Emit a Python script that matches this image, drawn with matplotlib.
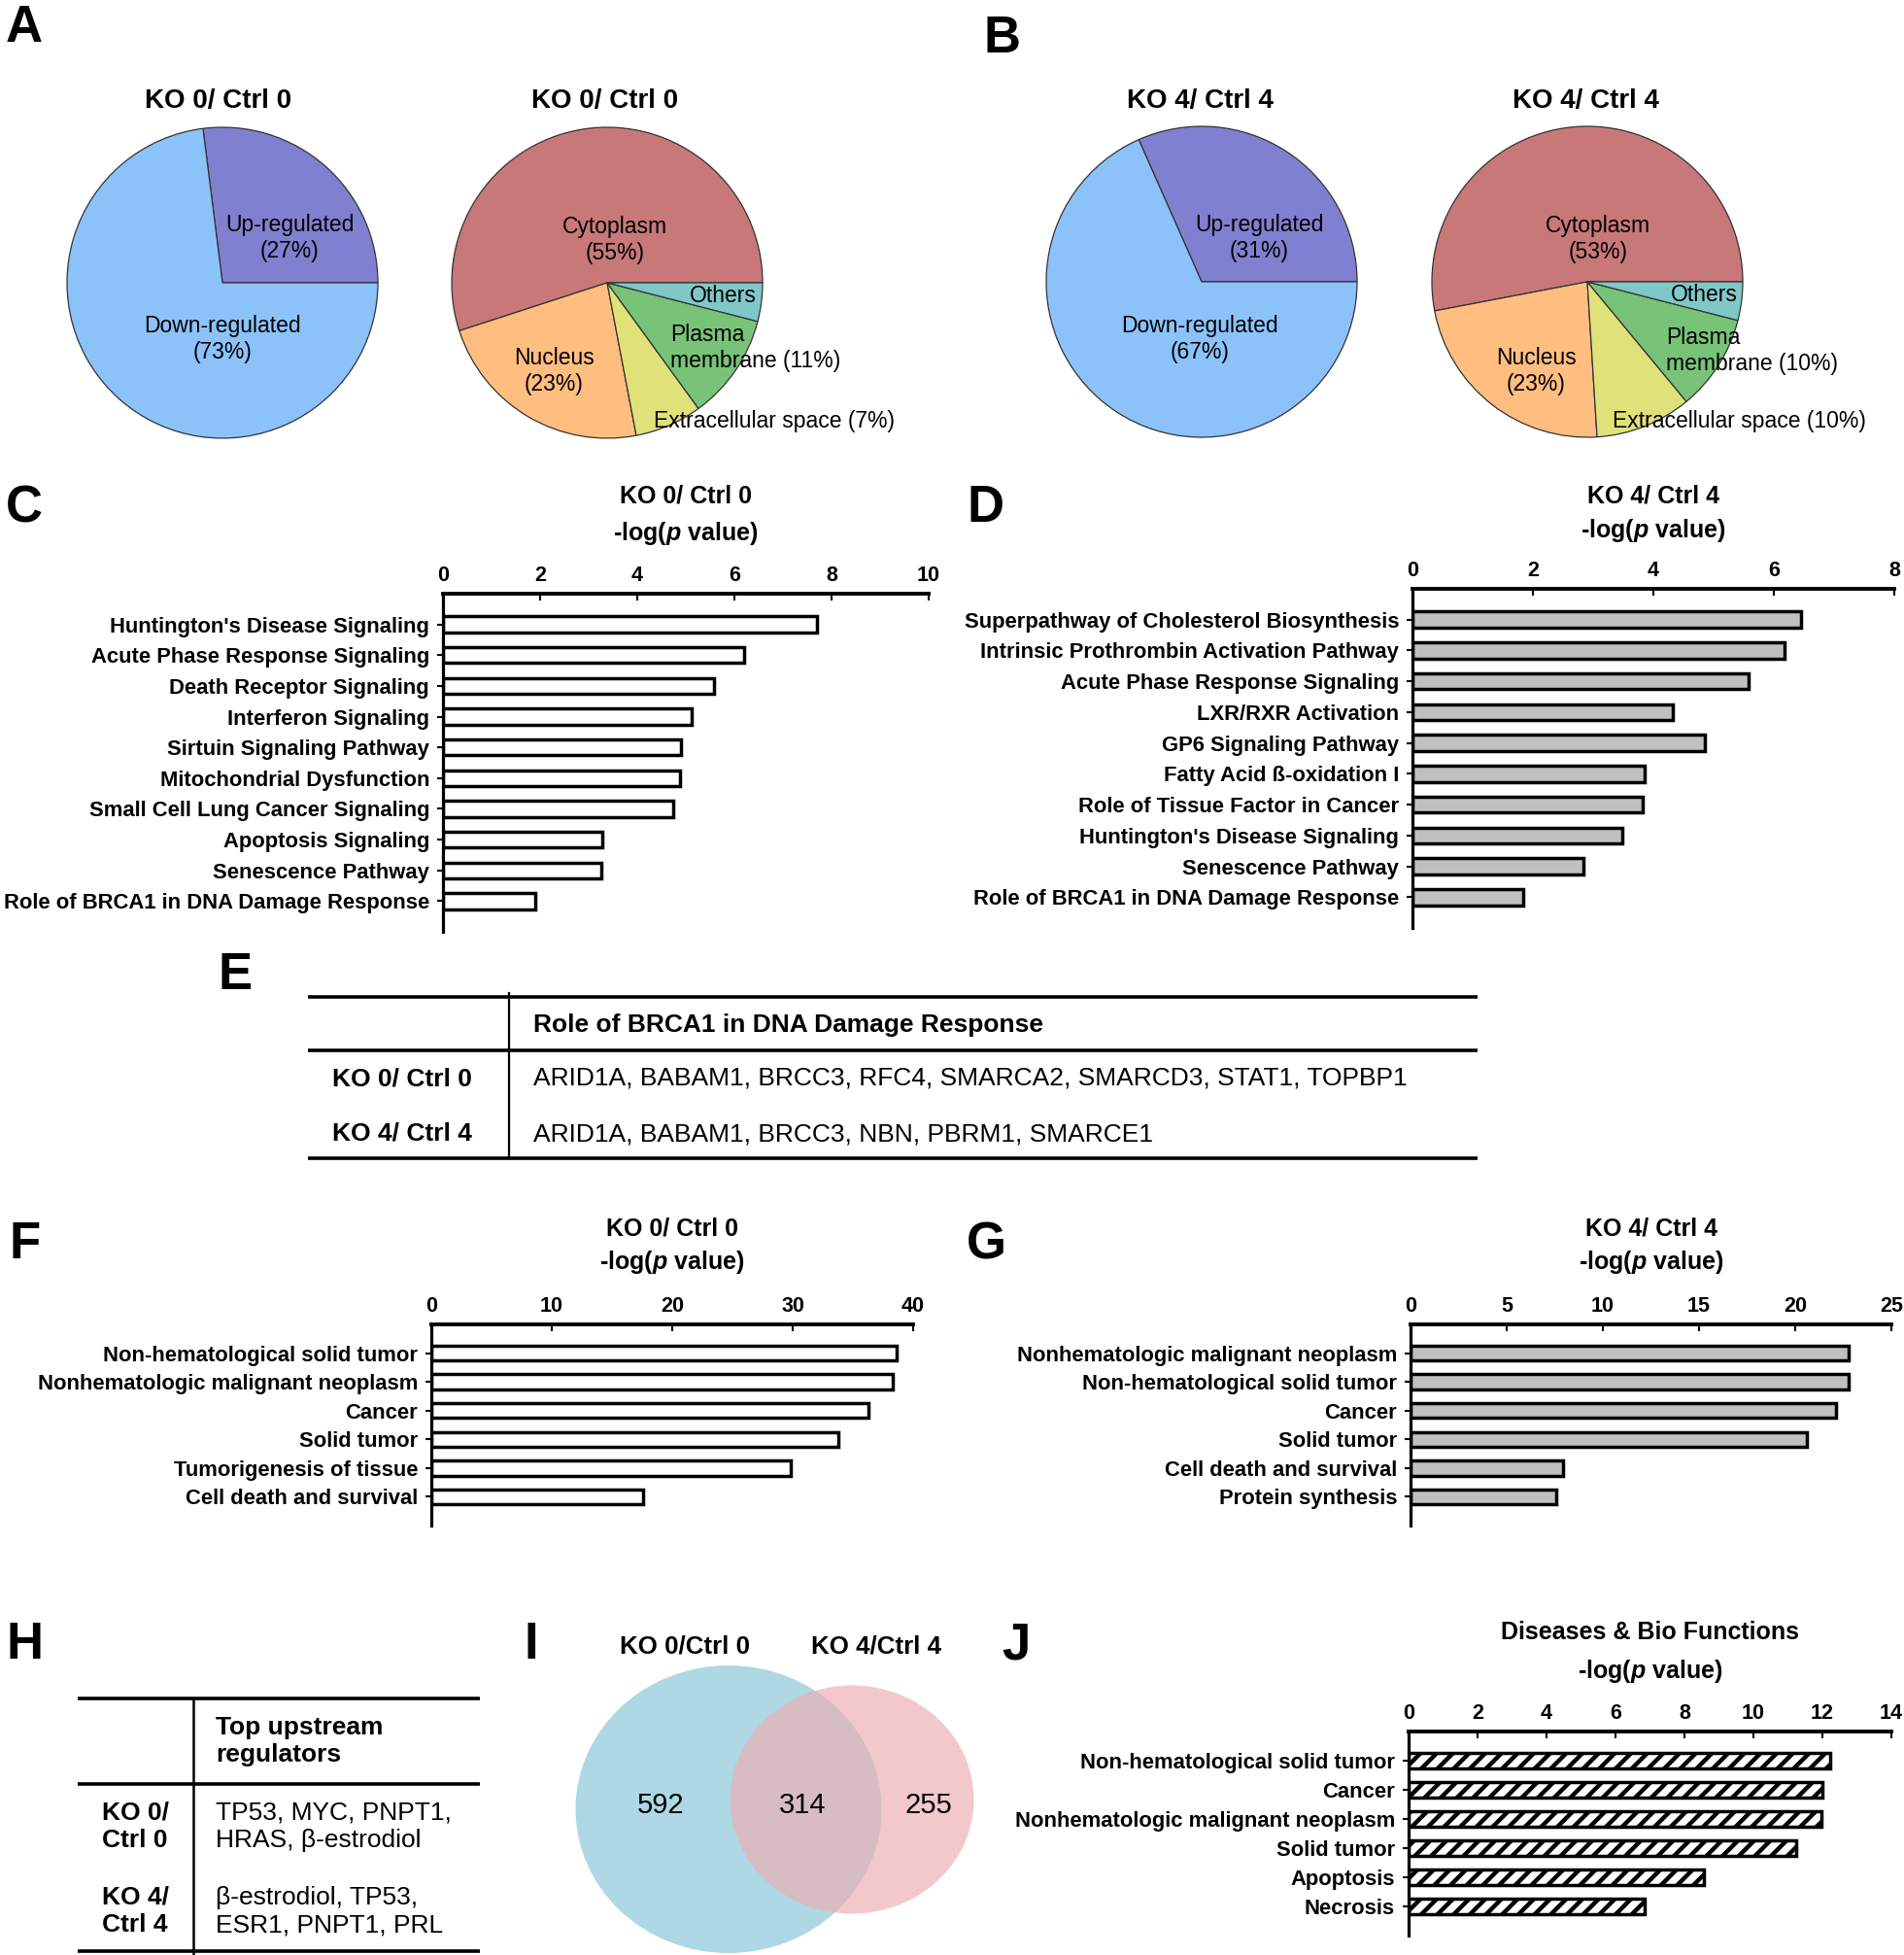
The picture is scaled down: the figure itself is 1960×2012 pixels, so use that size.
import matplotlib
matplotlib.use('Agg')
import matplotlib.pyplot as plt
from matplotlib.patches import Ellipse
import numpy as np

plt.rcParams['font.family'] = ['Liberation Sans', 'DejaVu Sans']
plt.rcParams['mathtext.fontset'] = 'custom'
plt.rcParams['mathtext.it'] = 'Liberation Sans:italic:bold'
plt.rcParams['mathtext.rm'] = 'Liberation Sans:bold'
plt.rcParams['hatch.linewidth'] = 3.2

# ---------------- data ----------------
reg_labels = ['Up-regulated', 'Down-regulated']
reg_ko0 = [27, 73]
reg_ko4 = [31, 67]
reg_colors = ['#8080D0', '#8CC2FA']

loc_labels = ['Cytoplasm', 'Nucleus', 'Extracellular space', 'Plasma membrane', 'Others']
loc_ko0 = [55, 23, 7, 11, 4]
loc_ko4 = [53, 23, 10, 10, 4]
loc_colors = ['#C87878', '#FFBE80', '#E1E17A', '#78C378', '#80C8C8']

path_ko0_cats = ["Huntington's Disease Signaling", "Acute Phase Response Signaling",
                 "Death Receptor Signaling", "Interferon Signaling", "Sirtuin Signaling Pathway",
                 "Mitochondrial Dysfunction", "Small Cell Lung Cancer Signaling",
                 "Apoptosis Signaling", "Senescence Pathway", "Role of BRCA1 in DNA Damage Response"]
path_ko0_vals = [7.7, 6.2, 5.57, 5.12, 4.9, 4.88, 4.73, 3.28, 3.25, 1.9]

path_ko4_cats = ["Superpathway of Cholesterol Biosynthesis", "Intrinsic Prothrombin Activation Pathway",
                 "Acute Phase Response Signaling", "LXR/RXR Activation", "GP6 Signaling Pathway",
                 "Fatty Acid ß-oxidation I", "Role of Tissue Factor in Cancer",
                 "Huntington's Disease Signaling", "Senescence Pathway",
                 "Role of BRCA1 in DNA Damage Response"]
path_ko4_vals = [6.45, 6.17, 5.58, 4.32, 4.86, 3.86, 3.83, 3.49, 2.84, 1.84]

brca_header = "Role of BRCA1 in DNA Damage Response"
brca_rows = ["KO 0/ Ctrl 0", "KO 4/ Ctrl 4"]
brca_genes = ["ARID1A, BABAM1, BRCC3, RFC4, SMARCA2, SMARCD3, STAT1, TOPBP1",
              "ARID1A, BABAM1, BRCC3, NBN, PBRM1, SMARCE1"]

dis_ko0_cats = ["Non-hematological solid tumor", "Nonhematologic malignant neoplasm", "Cancer",
                "Solid tumor", "Tumorigenesis of tissue", "Cell death and survival"]
dis_ko0_vals = [38.6, 38.3, 36.3, 33.8, 29.8, 17.6]

dis_ko4_cats = ["Nonhematologic malignant neoplasm", "Non-hematological solid tumor", "Cancer",
                "Solid tumor", "Cell death and survival", "Protein synthesis"]
dis_ko4_vals = [22.8, 22.8, 22.1, 20.6, 7.94, 7.57]

ups_header = "Top upstream\nregulators"
ups_rows = ["KO 0/\nCtrl 0", "KO 4/\nCtrl 4"]
ups_regs = ["TP53, MYC, PNPT1,\nHRAS, β-estrodiol", "β-estrodiol, TP53,\nESR1, PNPT1, PRL"]

venn_sets = ["KO 0/Ctrl 0", "KO 4/Ctrl 4"]
venn_counts = [592, 314, 255]

com_cats = ["Non-hematological solid tumor", "Cancer", "Nonhematologic malignant neoplasm",
            "Solid tumor", "Apoptosis", "Necrosis"]
com_vals = [12.23, 12.0, 11.97, 11.24, 8.56, 6.84]

# ---------------- figure ----------------
W, H = 1960, 2012
fig = plt.figure(figsize=(W / 100, H / 100), dpi=100)


def add_axes_px(left, top, right, bottom):
    return fig.add_axes([left / W, 1 - bottom / H, (right - left) / W, (bottom - top) / H])


ov = fig.add_axes([0, 0, 1, 1])
ov.set_xlim(0, W)
ov.set_ylim(H, 0)
ov.axis('off')
ov.set_zorder(10)

# panel letters
letters = {'A': (6, 43), 'B': (1012, 54), 'C': (6, 537), 'D': (995, 537), 'E': (224, 1018),
           'F': (9, 1295), 'G': (995, 1295), 'H': (6, 1707), 'I': (539, 1707), 'J': (1031, 1707)}
for k, (x, y) in letters.items():
    ov.text(x, y, k, fontsize=38, fontweight='bold', ha='left', va='baseline')

# ---------------- pies ----------------
R = 160


def pie_panel(cx, cy, vals, colors):
    ax = add_axes_px(cx - R, cy - R, cx + R, cy + R)
    wedges, _ = ax.pie(vals, colors=colors, startangle=0, counterclock=True, radius=1,
                       wedgeprops=dict(edgecolor='#333333', linewidth=0.9))
    for w in wedges:
        w.set_clip_on(False)
    ax.set_xlim(-1, 1)
    ax.set_ylim(-1, 1)
    ax.set_aspect('equal')
    return ax


pie_panel(229, 291, reg_ko0, reg_colors)
pie_panel(625, 291, loc_ko0, loc_colors)
pie_panel(1237, 290, reg_ko4, reg_colors)
pie_panel(1634, 290, loc_ko4, loc_colors)

PF = 16.5
for cx, title in [(225, 'KO 0/ Ctrl 0'), (623, 'KO 0/ Ctrl 0'), (1235, 'KO 4/ Ctrl 4'), (1632, 'KO 4/ Ctrl 4')]:
    ov.text(cx, 104, title, fontsize=20, fontweight='bold', ha='center', va='center')


def reg_labels_draw(vals, up_xy, down_xy):
    ov.text(*up_xy, f"{reg_labels[0]}\n({vals[0]}%)", fontsize=PF, ha='center', va='center',
            multialignment='center')
    ov.text(*down_xy, f"{reg_labels[1]}\n({vals[1]}%)", fontsize=PF, ha='center', va='center',
            multialignment='center')


def loc_labels_draw(vals, cyto_xy, nuc_xy, ext_xy, pm_xy, oth_xy):
    ov.text(*cyto_xy, f"{loc_labels[0]}\n({vals[0]}%)", fontsize=PF, ha='center', va='center',
            multialignment='center')
    ov.text(*nuc_xy, f"{loc_labels[1]}\n({vals[1]}%)", fontsize=PF, ha='center', va='center',
            multialignment='center')
    ov.text(*ext_xy, f"{loc_labels[2]} ({vals[2]}%)", fontsize=PF, ha='left', va='center')
    pm = loc_labels[3].split(' ')
    ov.text(*pm_xy, f"{pm[0]}\n{pm[1]} ({vals[3]}%)", fontsize=PF, ha='left', va='center',
            multialignment='left')
    ov.text(*oth_xy, loc_labels[4], fontsize=PF, ha='center', va='center')


reg_labels_draw(reg_ko0, (298, 245), (229, 349))
loc_labels_draw(loc_ko0, (633, 247), (570, 382), (673, 433), (690, 358), (744, 304))
reg_labels_draw(reg_ko4, (1296, 245), (1235, 349))
loc_labels_draw(loc_ko4, (1645, 246), (1581, 382), (1660, 433), (1715, 361), (1754, 303))

# ---------------- bar panels ----------------
LOGP = r"-log($p$ value)"


def bar_panel(rect, cats, vals, xmax, step, fc, title, title_y, logp_y, hatch=None):
    ax = add_axes_px(*rect)
    y = np.arange(len(cats))
    ax.barh(y, vals, height=0.52, color=fc, edgecolor='black', linewidth=2.5, hatch=hatch)
    ax.set_xlim(0, xmax)
    ax.set_ylim(len(cats), -1)
    ticks = np.arange(0, xmax + 1e-9, step)
    ax.xaxis.tick_top()
    ax.set_xticks(ticks, [f"{t:g}" for t in ticks], fontweight='bold')
    ax.set_yticks(y, cats, fontweight='bold')
    ax.tick_params(axis='x', direction='in', length=5, width=1.5, pad=6, labelsize=15.5)
    ax.tick_params(axis='y', direction='out', length=4, width=1.5, pad=6, labelsize=15.8)
    for s in ['right', 'bottom']:
        ax.spines[s].set_visible(False)
    ax.spines['top'].set_linewidth(2.8)
    ax.spines['left'].set_linewidth(2.3)
    ax.set_facecolor('none')
    cx = (rect[0] + rect[2]) / 2
    ov.text(cx, title_y, title, fontsize=18, fontweight='bold', ha='center', va='center')
    ov.text(cx, logp_y, LOGP, fontsize=18, fontweight='bold', ha='center', va='center')
    return ax


bar_panel((456, 611, 956, 959), path_ko0_cats, path_ko0_vals, 10, 2, 'white',
          'KO 0/ Ctrl 0', 510, 549)
bar_panel((1454, 606, 1950, 955), path_ko4_cats, path_ko4_vals, 8, 2, '#C0C0C0',
          'KO 4/ Ctrl 4', 510, 546)
bar_panel((444, 1363, 940, 1570), dis_ko0_cats, dis_ko0_vals, 40, 10, 'white',
          'KO 0/ Ctrl 0', 1264, 1299)
bar_panel((1452, 1363, 1947, 1570), dis_ko4_cats, dis_ko4_vals, 25, 5, '#C0C0C0',
          'KO 4/ Ctrl 4', 1265, 1299)
bar_panel((1450, 1782, 1947, 1992), com_cats, com_vals, 14, 2, 'white',
          'Diseases & Bio Functions', 1680, 1720, hatch='//')

# ---------------- table E ----------------
TF = 19
ov.plot([317, 1521], [1026, 1026], color='black', lw=2.6, solid_capstyle='butt')
ov.plot([317, 1521], [1081, 1081], color='black', lw=2.6, solid_capstyle='butt')
ov.plot([317, 1521], [1192, 1192], color='black', lw=2.6, solid_capstyle='butt')
ov.plot([524, 524], [1022, 1192], color='black', lw=1.6)
ov.text(549, 1055, brca_header, fontsize=TF, fontweight='bold', ha='left', va='center')
for yy, lab, genes in zip([1110, 1167], brca_rows, brca_genes):
    ov.text(414, yy, lab, fontsize=TF, fontweight='bold', ha='center', va='center')
    ov.text(549, yy, genes, fontsize=TF, ha='left', va='center')

# ---------------- table H ----------------
ov.plot([80, 494], [1748, 1748], color='black', lw=2.6, solid_capstyle='butt')
ov.plot([80, 494], [1836, 1836], color='black', lw=2.6, solid_capstyle='butt')
ov.plot([80, 494], [2008, 2008], color='black', lw=2.6, solid_capstyle='butt')
ov.plot([199, 199], [1748, 2012], color='black', lw=1.8)
ov.text(222, 1792, ups_header, fontsize=TF, fontweight='bold', ha='left', va='center',
        linespacing=1.25)
for yy, lab, regs in zip([1880, 1967], ups_rows, ups_regs):
    ov.text(105, yy, lab, fontsize=TF, fontweight='bold', ha='left', va='center', linespacing=1.25)
    ov.text(222, yy, regs, fontsize=TF, ha='left', va='center', linespacing=1.25)

# ---------------- Venn I ----------------
vx = add_axes_px(560, 1680, 1030, 2012)
vx.set_xlim(560, 1030)
vx.set_ylim(2012, 1680)
vx.axis('off')
vx.add_patch(Ellipse((750, 1862), 315, 296, facecolor='#ADD8E4', edgecolor='none'))
vx.add_patch(Ellipse((877, 1852), 251, 235, facecolor='#EDAFB4', edgecolor='none', alpha=0.68))
for x, c in zip([680, 826, 956], venn_counts):
    vx.text(x, 1858, str(c), fontsize=21, ha='center', va='center')
ov.text(705, 1694, venn_sets[0], fontsize=18.6, fontweight='bold', ha='center', va='center')
ov.text(902, 1694, venn_sets[1], fontsize=18.6, fontweight='bold', ha='center', va='center')

fig.savefig('out.png', dpi=100)
